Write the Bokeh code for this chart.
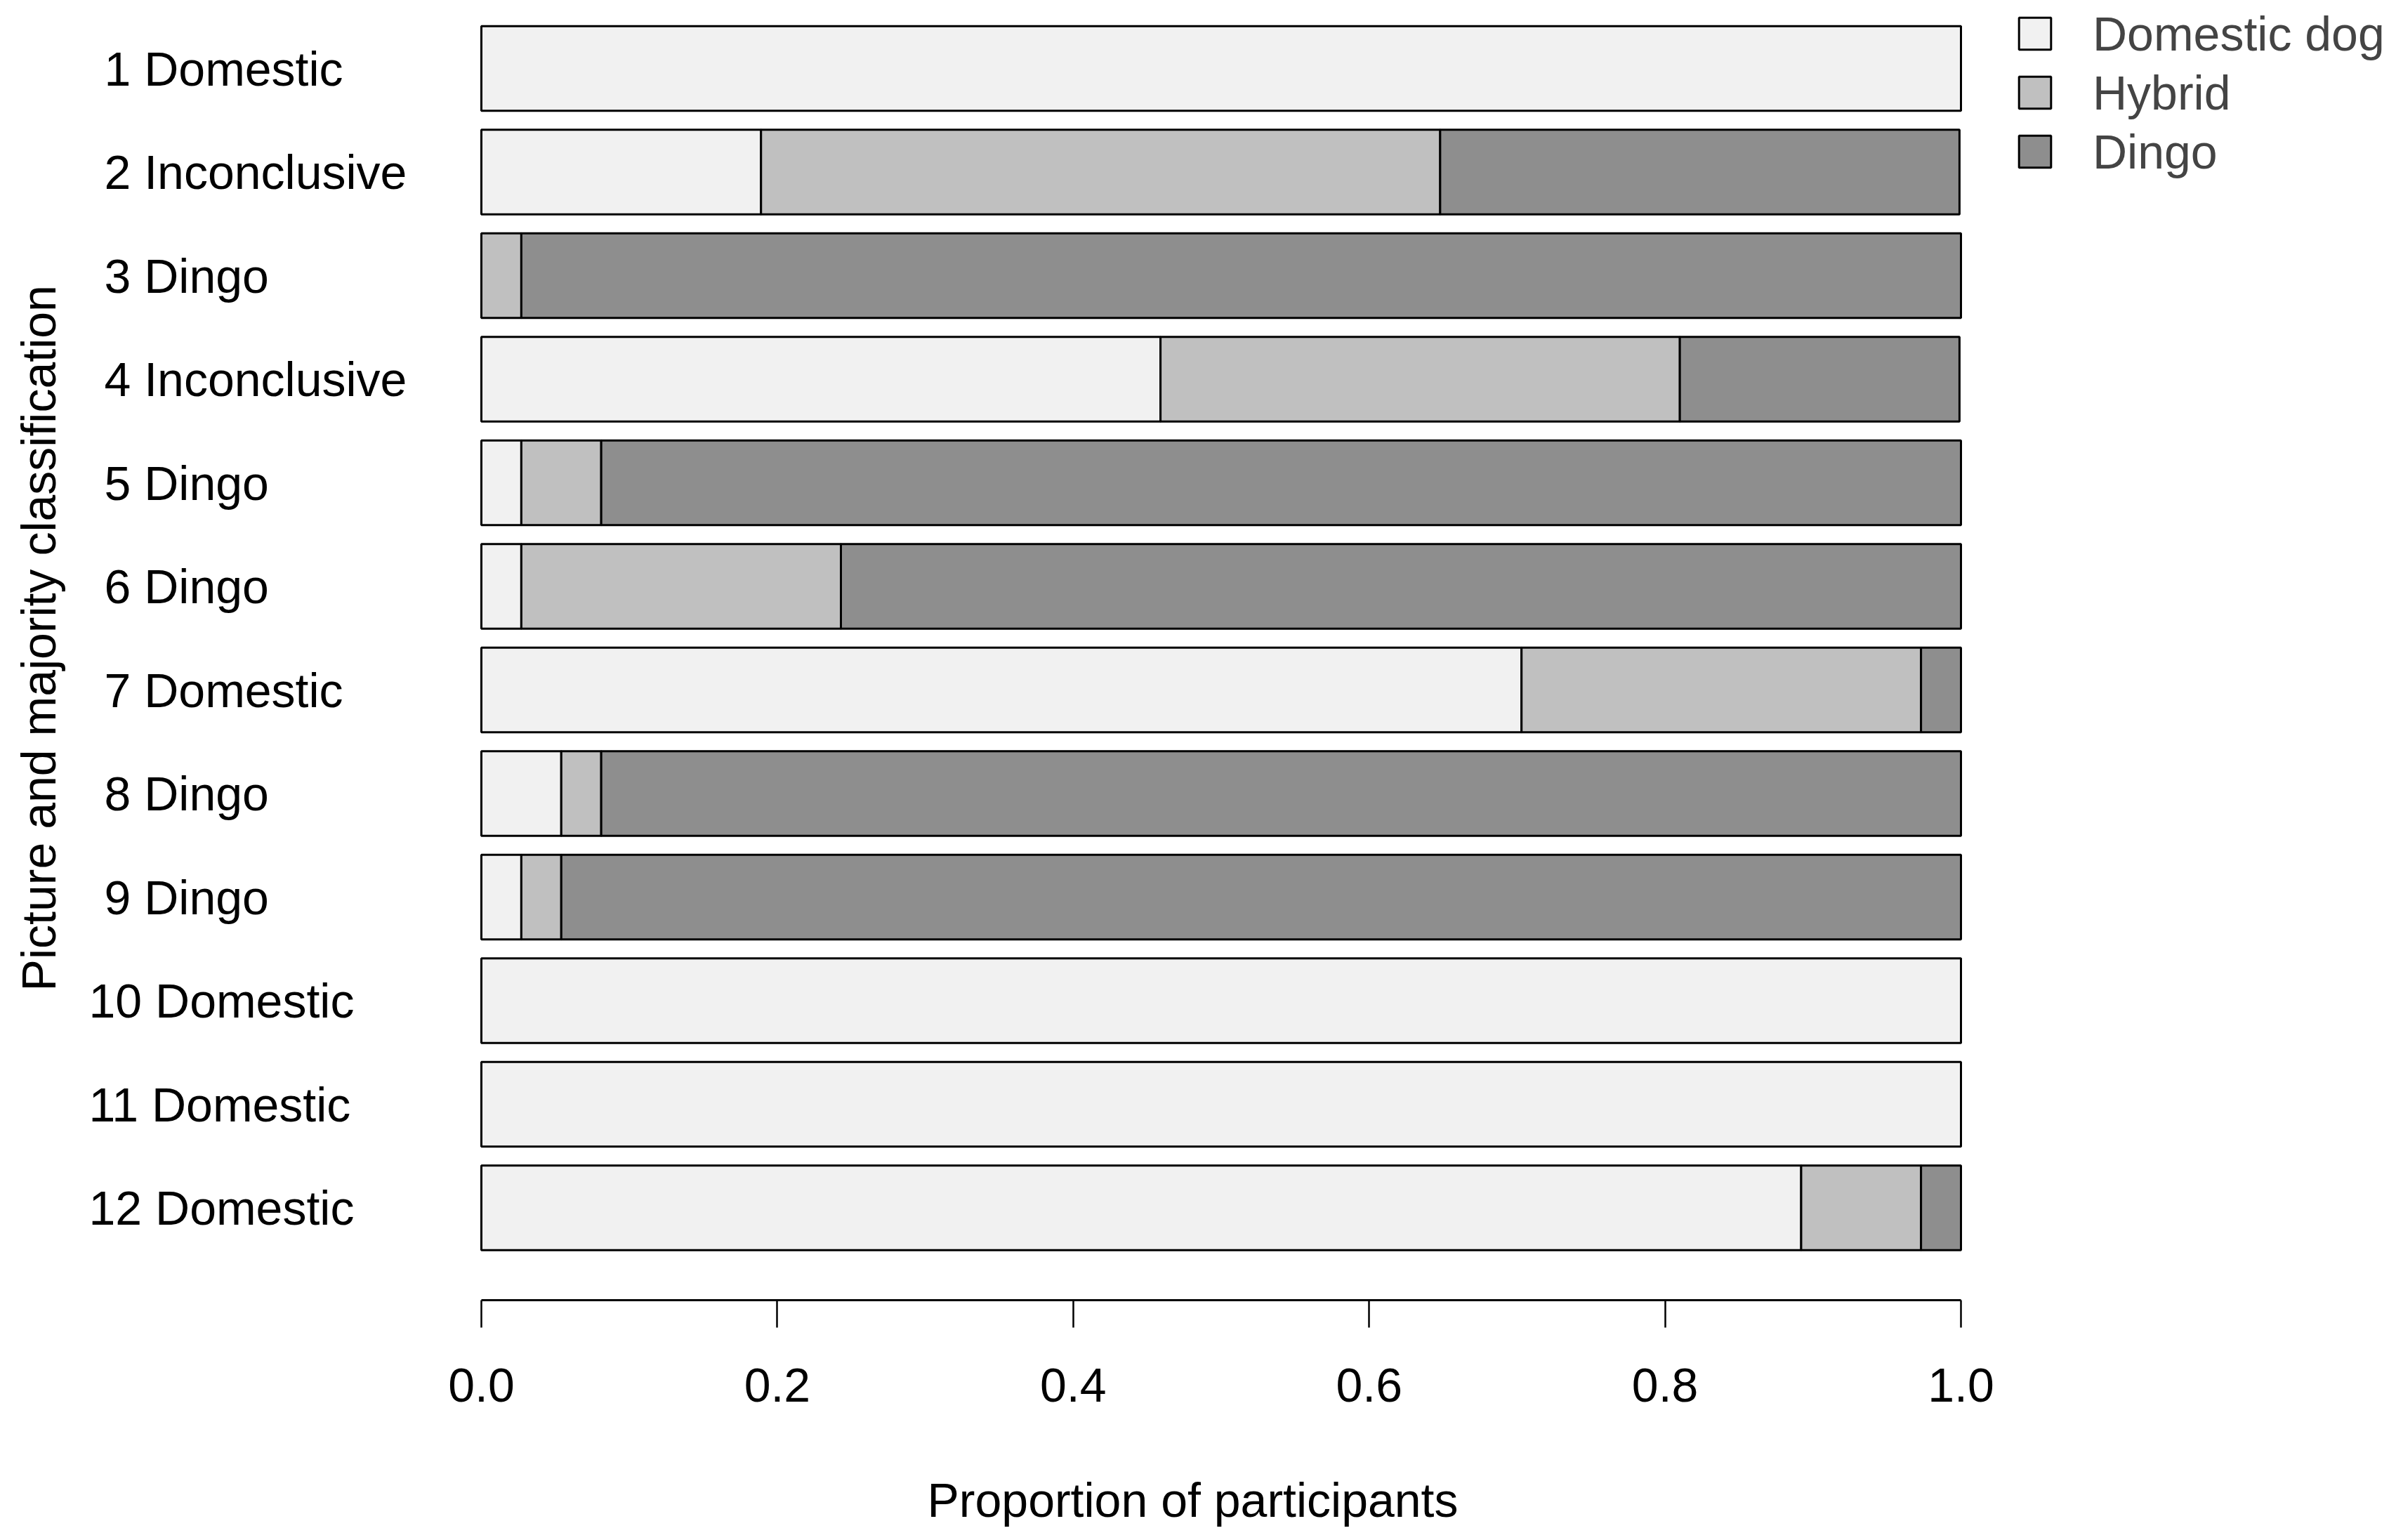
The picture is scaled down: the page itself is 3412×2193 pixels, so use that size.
import math
from bokeh.plotting import figure
from bokeh.models import Range1d, LinearAxis, FixedTicker, NumeralTickFormatter, ColumnDataSource
from bokeh.core.properties import value
from bokeh.embed import file_html
from bokeh.resources import INLINE

# ---- data (proportion of participants per picture) ----
pictures = ["1 Domestic", "2 Inconclusive", "3 Dingo", "4 Inconclusive", "5 Dingo", "6 Dingo",
            "7 Domestic", "8 Dingo", "9 Dingo", "10 Domestic", "11 Domestic", "12 Domestic"]
domestic = [1.000, 0.189, 0.000, 0.459, 0.027, 0.027, 0.703, 0.054, 0.027, 1.000, 1.000, 0.892]
hybrid = [0.000, 0.459, 0.027, 0.351, 0.054, 0.216, 0.270, 0.027, 0.027, 0.000, 0.000, 0.081]
dingo = [0.000, 0.351, 0.973, 0.189, 0.919, 0.757, 0.027, 0.919, 0.946, 0.000, 0.000, 0.027]
series = ["Domestic dog", "Hybrid", "Dingo"]
x_ticks = [0.0, 0.2, 0.4, 0.6, 0.8, 1.0]

colors = ["#f1f1f1", "#c0c0c0", "#8e8e8e"]
FONT = "Liberation Sans"
FS = "68px"

# ---- layout (figure pixels) ----
W, H = 3396, 2177
FRAME_H = 1851
X0_PX, X1_PX = 685.0, 2792.0
PX_PER_X = X1_PX - X0_PX
BAR_STEP = 1.2
PX_PER_Y = 147.5 / BAR_STEP
FIRST_CENTER_PX = 97.0

pos = [0.7 + i * BAR_STEP for i in range(len(pictures))]

x_start = -X0_PX / PX_PER_X
x_end = (W - X0_PX) / PX_PER_X
y_top = pos[0] - FIRST_CENTER_PX / PX_PER_Y
y_bottom = y_top + FRAME_H / PX_PER_Y


def px_to_x(px):
    return x_start + px / PX_PER_X


p = figure(width=W, height=H, output_backend="svg", toolbar_location=None,
           x_range=Range1d(x_start, x_end), y_range=Range1d(y_bottom, y_top),
           x_axis_location=None, y_axis_location=None,
           min_border_left=0, min_border_right=0, min_border_top=0,
           min_border_bottom=H - FRAME_H)
p.outline_line_color = None
p.xgrid.visible = False
p.ygrid.visible = False
p.background_fill_color = "white"
p.border_fill_color = "white"

source = ColumnDataSource(dict(pos=pos, domestic=domestic, hybrid=hybrid, dingo=dingo))
p.hbar_stack(["domestic", "hybrid", "dingo"], y="pos", height=0.98, source=source,
             fill_color=colors, line_color="black", line_width=3,
             legend_label=series)

# category labels (left aligned, like the reference)
lab_x = [px_to_x(126 if len(s.split()[0]) == 2 else 148) for s in pictures]
p.text(x=lab_x, y=pos, text=pictures, text_align="left", text_baseline="middle",
       text_font=value(FONT), text_font_size=FS, text_color="black")

# y axis title
p.text(x=[px_to_x(54)], y=[(pos[0] + pos[-1]) / 2], text=["Picture and majority classification"],
       angle=math.pi / 2, text_align="center", text_baseline="middle",
       text_font=value(FONT), text_font_size=FS, text_color="black")

# x axis (R style, bounded to 0..1)
ax = LinearAxis(bounds=(0, 1), ticker=FixedTicker(ticks=x_ticks),
                formatter=NumeralTickFormatter(format="0.0"),
                axis_label="Proportion of participants")
ax.axis_line_width = 3
ax.axis_line_color = "black"
ax.major_tick_line_width = 2.5
ax.major_tick_line_color = "black"
ax.major_tick_in = 0
ax.major_tick_out = 39
ax.minor_tick_line_color = None
ax.major_label_standoff = 58
ax.major_label_text_font = FONT
ax.major_label_text_font_size = FS
ax.major_label_text_color = "black"
ax.axis_label_text_font = FONT
ax.axis_label_text_font_size = FS
ax.axis_label_text_font_style = "normal"
ax.axis_label_text_color = "black"
ax.axis_label_standoff = 99
p.add_layout(ax, "below")

lg = p.legend[0]
lg.location = (2869, FRAME_H - 8.6 - 246)
lg.margin = 0
lg.padding = 0
lg.border_line_color = None
lg.background_fill_alpha = 0
lg.label_text_font = FONT
lg.label_text_font_size = FS
lg.glyph_width = 57
lg.glyph_height = 57
lg.label_standoff = 54
lg.spacing = 6

open("out.html", "w").write(file_html(p, INLINE))
